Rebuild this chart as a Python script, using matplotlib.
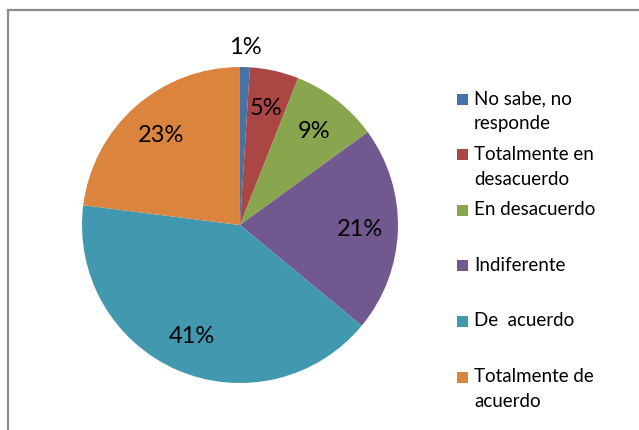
import numpy as np
import matplotlib
matplotlib.use("Agg")
import matplotlib.pyplot as plt
from matplotlib.lines import Line2D
from matplotlib.patches import Rectangle

plt.rcParams['font.family'] = ['Lato', 'DejaVu Sans']

labels = ["No sabe, no\nresponde", "Totalmente en\ndesacuerdo", "En desacuerdo",
          "Indiferente", "De  acuerdo", "Totalmente de\nacuerdo"]
values = [1, 5, 9, 21, 41, 23]
colors = ["#4572A7", "#AA4643", "#89A54E", "#71588F", "#4198AF", "#DB843D"]

fig = plt.figure(figsize=(6.39, 4.31), dpi=100)

# marco gris (solo lados izquierdo y superior visibles)
fig.add_artist(Line2D([8 / 639, 8 / 639], [0, 1 - 11 / 431], color="#8C8C8C", lw=1.6))
fig.add_artist(Line2D([8 / 639, 1], [1 - 11 / 431, 1 - 11 / 431], color="#8C8C8C", lw=1.6))

ax = fig.add_axes([0.1283, 0.109, 0.4945, 0.7332])
wedges, texts = ax.pie(values, colors=colors, startangle=90, counterclock=False,
                       wedgeprops=dict(linewidth=0))
ax.set_xlim(-1, 1)
ax.set_ylim(-1, 1)
ax.set_aspect("equal")

total = sum(values)
for i, w in enumerate(wedges):
    ang = np.deg2rad((w.theta1 + w.theta2) / 2)
    r = 1.13 if values[i] / total < 0.03 else 0.76
    ax.text(r * np.cos(ang), r * np.sin(ang), f"{values[i]}%", ha="center", va="center",
            fontsize=17, color="black")

# leyenda
y0 = 100
step = 55.6
for i, (lab, col) in enumerate(zip(labels, colors)):
    y = y0 + i * step
    fig.add_artist(Rectangle((457 / 639, 1 - (y + 5.5) / 431), 11 / 639, 11 / 431,
                             facecolor=col, edgecolor="none", transform=fig.transFigure))
    fig.text(474 / 639, 1 - (y - 10) / 431, lab, ha="left", va="top", fontsize=13.5,
             color="black", linespacing=1.6)

fig.savefig("out.png", dpi=100)
